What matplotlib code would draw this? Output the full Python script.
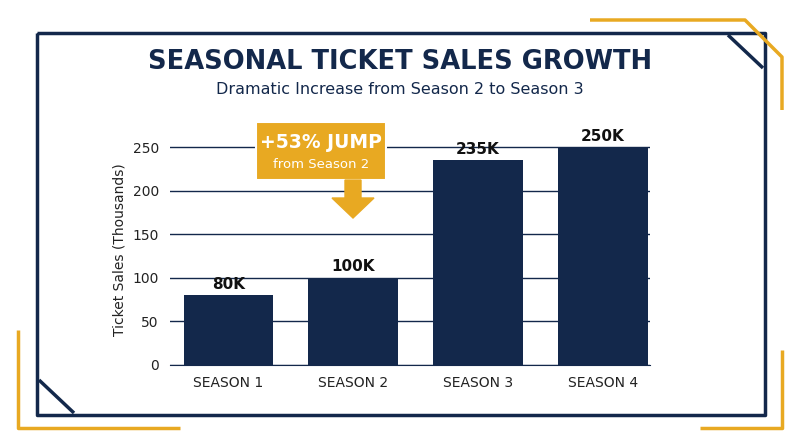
import matplotlib.pyplot as plt
from matplotlib.patches import Rectangle, FancyArrow
from matplotlib.lines import Line2D

seasons = ["SEASON 1", "SEASON 2", "SEASON 3", "SEASON 4"]
sales = [80, 100, 235, 250]
labels = ["80K", "100K", "235K", "250K"]

NAVY = "#13284b"
GOLD = "#e8a922"
W, H = 800, 447

fig = plt.figure(figsize=(8, 4.47), dpi=100)

def px(x, y):
    return x / W, 1 - y / H

def line(pts, color, lw):
    xs, ys = zip(*[px(x, y) for x, y in pts])
    fig.add_artist(Line2D(xs, ys, color=color, lw=lw, transform=fig.transFigure, solid_capstyle="butt"))

# frame
line([(37, 33), (765, 33), (765, 415), (37, 415), (37, 33)], NAVY, 2.5)
line([(728, 35), (763, 68)], NAVY, 2.5)
line([(39, 380), (74, 413)], NAVY, 2.5)
# gold corner brackets
line([(590, 20), (745, 20), (782, 57), (782, 110)], GOLD, 2.5)
line([(18, 330), (18, 428), (180, 428)], GOLD, 2.5)
line([(700, 428), (782, 428), (782, 350)], GOLD, 2.5)

fig.text(0.5, 1 - 62 / H, "SEASONAL TICKET SALES GROWTH", ha="center", va="center",
         fontsize=18.5, fontweight="bold", color=NAVY)
fig.text(0.5, 1 - 89 / H, "Dramatic Increase from Season 2 to Season 3", ha="center", va="center",
         fontsize=11.5, color=NAVY)

ax = fig.add_axes([170 / W, 1 - 365 / H, 480 / W, (365 - 135) / H])
x = range(len(seasons))
ax.bar(x, sales, width=0.72, color=NAVY, zorder=3)
for i, (v, t) in enumerate(zip(sales, labels)):
    ax.text(i, v + 4, t, ha="center", va="bottom", fontsize=11, fontweight="bold", color="#111")
ax.set_xlim(-0.47, 3.38)
ax.set_ylim(0, 264)
ax.set_yticks([0, 50, 100, 150, 200, 250])
ax.set_xticks(list(x))
ax.set_xticklabels(seasons, fontsize=10, color="#222")
ax.tick_params(axis="y", labelsize=10, colors="#222", length=0, pad=8)
ax.tick_params(axis="x", length=0, pad=8)
ax.grid(axis="y", color=NAVY, lw=1, zorder=0)
for s in ["top", "right", "left"]:
    ax.spines[s].set_visible(False)
ax.spines["bottom"].set_color(NAVY)
ax.set_ylabel("Ticket Sales (Thousands)", fontsize=10, color="#222")

# callout
x0, y0 = px(256, 180)
x1, y1 = px(386, 122)
fig.add_artist(Rectangle((x0, y0), x1 - x0, y1 - y0, transform=fig.transFigure,
                         facecolor=GOLD, edgecolor="white", lw=1.5, zorder=5))
ax0, ay0 = px(353, 180)
fig.add_artist(FancyArrow(ax0, ay0, 0, -(218 - 180) / H, width=16 / W, head_width=42 / W,
                          head_length=20 / H, length_includes_head=True, transform=fig.transFigure,
                          color=GOLD, zorder=5))
fig.text(321 / W, 1 - 142 / H, "+53% JUMP", ha="center", va="center", fontsize=13.5,
         fontweight="bold", color="white", zorder=6)
fig.text(321 / W, 1 - 165 / H, "from Season 2", ha="center", va="center", fontsize=9.5,
         color="white", zorder=6)

fig.savefig("out.png", dpi=100, facecolor="white")
